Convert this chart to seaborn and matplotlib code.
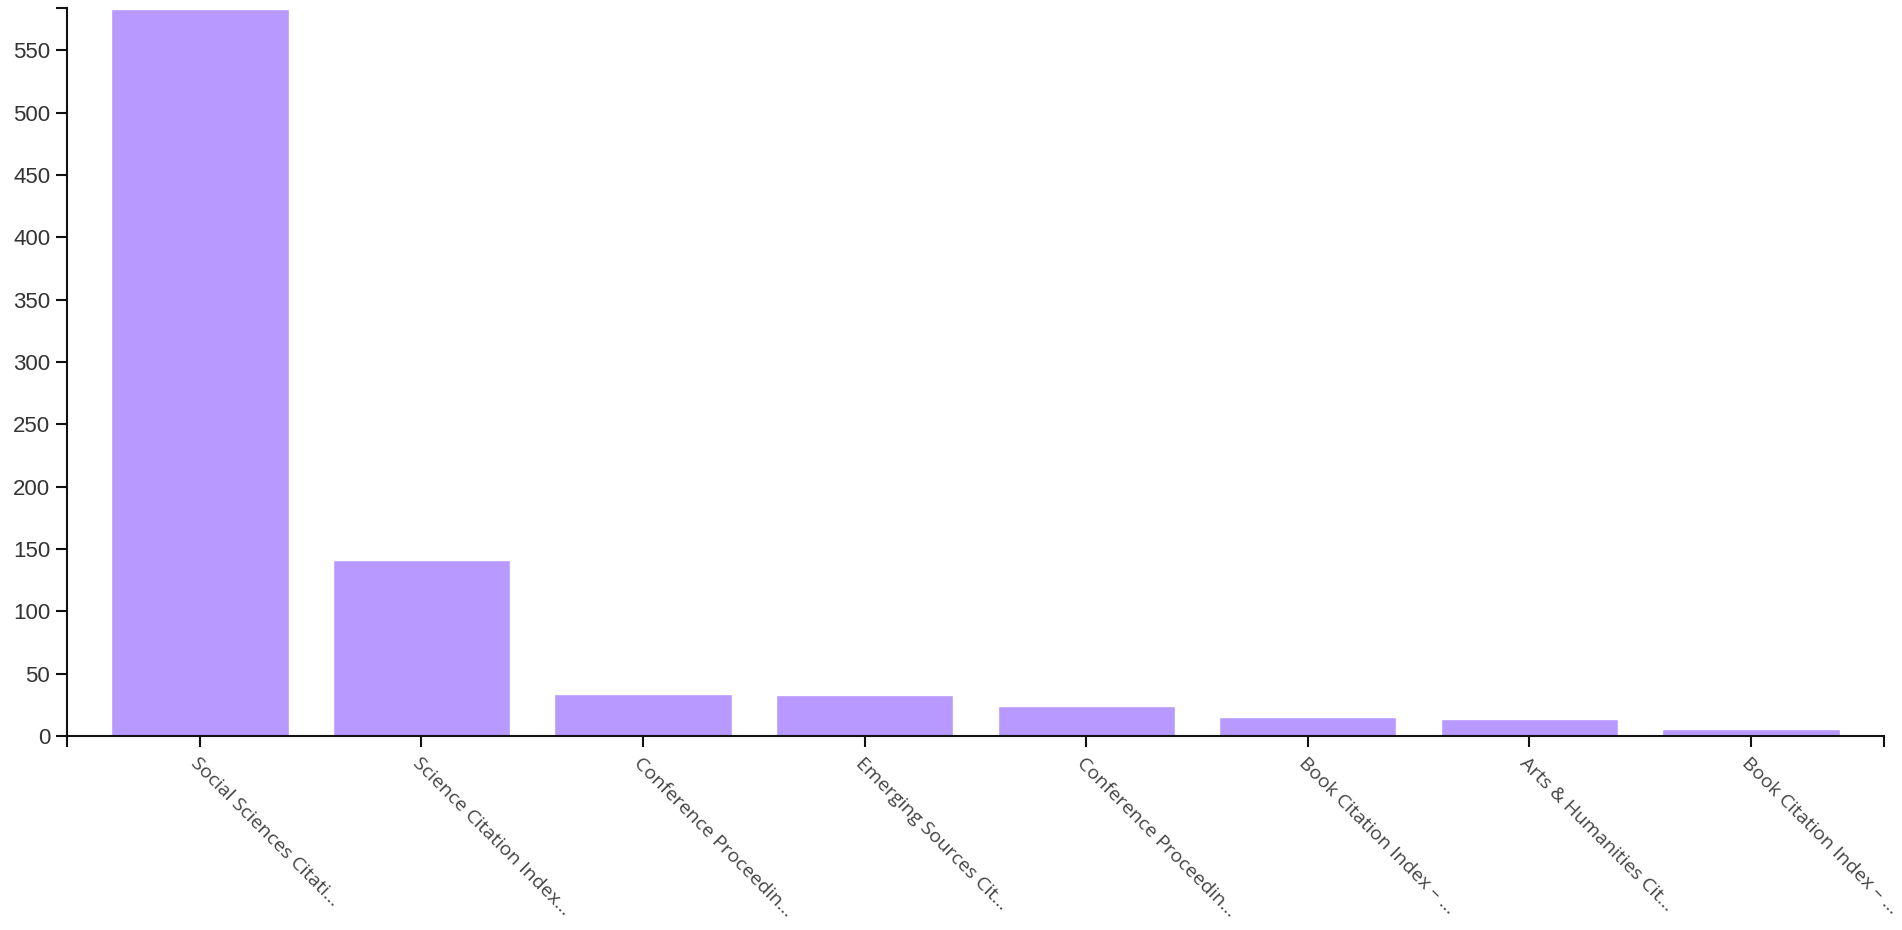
import pandas as pd
import matplotlib.pyplot as plt
import seaborn as sns

# Web of Science index counts
categories = [
    "Social Sciences Citation Index (SSCI)",
    "Science Citation Index Expanded (SCI-EXPANDED)",
    "Conference Proceedings Citation Index – Social Science & Humanities (CPCI-SSH)",
    "Emerging Sources Citation Index (ESCI)",
    "Conference Proceedings Citation Index – Science (CPCI-S)",
    "Book Citation Index – Social Sciences & Humanities (BKCI-SSH)",
    "Arts & Humanities Citation Index (A&HCI)",
    "Book Citation Index – Science (BKCI-S)",
]
counts = [583, 141, 34, 33, 24, 15, 14, 6]
tick_labels = [
    "Social Sciences Citati…",
    "Science Citation Index…",
    "Conference Proceedin…",
    "Emerging Sources Cit…",
    "Conference Proceedin…",
    "Book Citation Index – …",
    "Arts & Humanities Cit…",
    "Book Citation Index – …",
]
y_ticks = [0, 50, 100, 150, 200, 250, 300, 350, 400, 450, 500, 550]

df = pd.DataFrame({"index": categories, "count": counts})

sns.set_style("white")
fig = plt.figure(figsize=(19.02, 9.30), dpi=100)
ax = fig.add_axes([0.0352, 0.2086, 0.9553, 0.7828])

sns.barplot(data=df, x="index", y="count", order=categories,
            color="#b899ff", saturation=1, width=0.8, ax=ax)

ymax = max(counts) + 1
ax.set_xlim(-0.6, len(categories) - 0.4)
ax.set_ylim(0, ymax)
ax.set_yticks(y_ticks)
# outer ticks at the ends of the axis lines, like a d3 domain path
ax.set_yticks([ymax], minor=True)
ax.set_xticks([-0.6, len(categories) - 0.4], minor=True)

ax.set_xticks(range(len(categories)))
ax.set_xticklabels(tick_labels, rotation=-45, ha="left", va="top",
                   rotation_mode="anchor", fontfamily="Open Sans",
                   fontsize=14, color="#444444")
for lbl in ax.get_yticklabels():
    lbl.set_fontfamily("Liberation Sans")
    lbl.set_fontsize(16)
    lbl.set_color("#333333")

ax.tick_params(axis="both", which="both", direction="out", length=8,
               width=1.5, color="#111111", bottom=True, left=True)
ax.tick_params(axis="x", which="major", pad=5)
ax.tick_params(axis="y", which="major", pad=4)

sns.despine(ax=ax)
for side in ["left", "bottom"]:
    ax.spines[side].set_linewidth(1.5)
    ax.spines[side].set_color("#111111")

ax.set_xlabel("")
ax.set_ylabel("")

fig.savefig("out.png", dpi=100)
